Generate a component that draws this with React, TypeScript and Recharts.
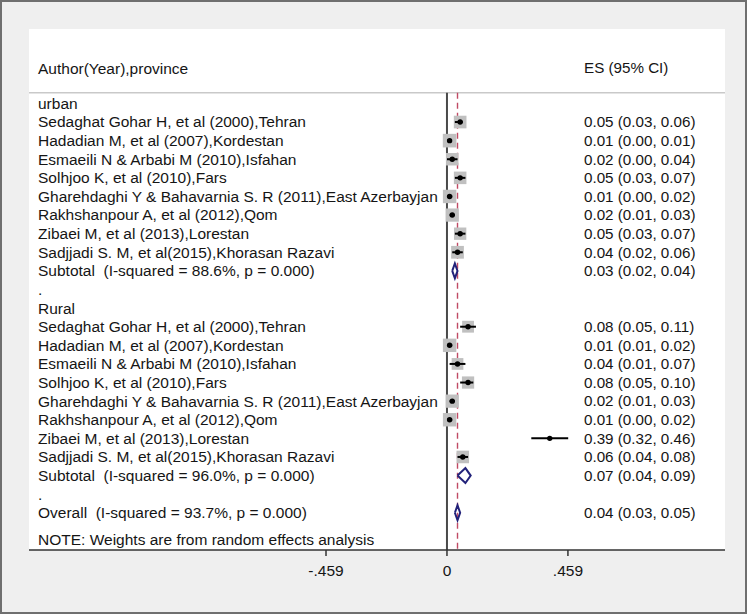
import React from "react";
import {
  ScatterChart,
  Scatter,
  XAxis,
  YAxis,
  ErrorBar,
  ReferenceLine,
  CartesianGrid,
} from "recharts";

const FONT = '"Liberation Sans", Arial, Helvetica, sans-serif';

const headerLeft = "Author(Year),province";
const headerRight = "ES (95% CI)";
const noteText = "NOTE: Weights are from random effects analysis";

const groups = ["urban", "Rural"];

const studies = [
  "Sedaghat Gohar H, et al (2000),Tehran",
  "Hadadian M, et al (2007),Kordestan",
  "Esmaeili N & Arbabi M (2010),Isfahan",
  "Solhjoo K, et al (2010),Fars",
  "Gharehdaghi Y & Bahavarnia S. R (2011),East Azerbayjan",
  "Rakhshanpour A, et al (2012),Qom",
  "Zibaei M, et al (2013),Lorestan",
  "Sadjjadi S. M, et al(2015),Khorasan Razavi",
];

const urbanEs = [0.05, 0.01, 0.02, 0.05, 0.01, 0.02, 0.05, 0.04];
const urbanLo = [0.03, 0.0, 0.0, 0.03, 0.0, 0.01, 0.03, 0.02];
const urbanHi = [0.06, 0.01, 0.04, 0.07, 0.02, 0.03, 0.07, 0.06];
const urbanWeight = [6.4, 7.4, 6.2, 6.3, 7.2, 7.0, 6.1, 6.5];

const ruralEs = [0.08, 0.01, 0.04, 0.08, 0.02, 0.01, 0.39, 0.06];
const ruralLo = [0.05, 0.01, 0.01, 0.05, 0.01, 0.0, 0.32, 0.04];
const ruralHi = [0.11, 0.02, 0.07, 0.1, 0.03, 0.02, 0.46, 0.08];
const ruralWeight = [5.6, 7.2, 5.5, 6.0, 7.0, 7.2, 0.2, 6.3];

const subtotalLabels = [
  "Subtotal  (I-squared = 88.6%, p = 0.000)",
  "Subtotal  (I-squared = 96.0%, p = 0.000)",
];
const subtotalEs = [0.03, 0.07];
const subtotalLo = [0.02, 0.04];
const subtotalHi = [0.04, 0.09];

const overallLabel = "Overall  (I-squared = 93.7%, p = 0.000)";
const overallEs = 0.04;
const overallLo = 0.03;
const overallHi = 0.05;

const xTicks = [-0.459, 0, 0.459];

const fmt = (es: number, lo: number, hi: number) =>
  `${es.toFixed(2)} (${lo.toFixed(2)}, ${hi.toFixed(2)})`;

// row index = position of the line in the table
const HEADER_ROW = -1.9;
const RULE_ROW = -0.57;
const NOTE_ROW = 23.45;
const DIAMOND_H = 0.4;

type TextRow = { y: number; left: string; right?: string };
const textRows: TextRow[] = [{ y: HEADER_ROW, left: headerLeft, right: headerRight }];
const points: { x: number; y: number; err: number[]; w: number }[] = [];
const diamonds: { x: number; y: number }[][] = [];

const diamondOf = (es: number, lo: number, hi: number, y: number) => [
  { x: lo, y },
  { x: es, y: y - DIAMOND_H },
  { x: hi, y },
  { x: es, y: y + DIAMOND_H },
  { x: lo, y },
];

const groupData = [
  { es: urbanEs, lo: urbanLo, hi: urbanHi, w: urbanWeight },
  { es: ruralEs, lo: ruralLo, hi: ruralHi, w: ruralWeight },
];

let row = 0;
groups.forEach((g, gi) => {
  const d = groupData[gi];
  textRows.push({ y: row++, left: g });
  studies.forEach((s, si) => {
    const y = row++;
    const es = d.es[si];
    const lo = d.lo[si];
    const hi = d.hi[si];
    textRows.push({ y, left: s, right: fmt(es, lo, hi) });
    points.push({ x: es, y, err: [es - lo, hi - es], w: d.w[si] });
  });
  const y = row++;
  textRows.push({
    y,
    left: subtotalLabels[gi],
    right: fmt(subtotalEs[gi], subtotalLo[gi], subtotalHi[gi]),
  });
  diamonds.push(diamondOf(subtotalEs[gi], subtotalLo[gi], subtotalHi[gi], y));
  textRows.push({ y: row++, left: "." });
});
const overallRow = row;
textRows.push({ y: overallRow, left: overallLabel, right: fmt(overallEs, overallLo, overallHi) });
diamonds.push(diamondOf(overallEs, overallLo, overallHi, overallRow));
textRows.push({ y: NOTE_ROW, left: noteText });

const ES_COL_X = 584;
const FS = 15.5;
const MARGIN = { top: 29, right: 22, bottom: 24, left: 28 };

const RowTick = (props: any) => {
  const { y, payload } = props;
  const r = textRows.find((t) => Math.abs(t.y - payload.value) < 1e-6);
  if (!r) return null;
  return (
    <g>
      <text
        x={38}
        y={y}
        dy="0.35em"
        fill="#151515"
        fontSize={FS}
        fontFamily={FONT}
        style={{ whiteSpace: "pre" }}
      >
        {r.left}
      </text>
      {r.right && (
        <text x={ES_COL_X} y={y} dy="0.35em" fill="#151515" fontSize={15.2} fontFamily={FONT}>
          {r.right}
        </text>
      )}
    </g>
  );
};

const WeightBox = (props: any) => {
  const { cx, cy, payload } = props;
  const s = Math.sqrt(payload.w) * 5;
  return <rect x={cx - s / 2} y={cy - s / 2} width={s} height={s} fill="#c0c0c0" />;
};

const Dot = (props: any) => <circle cx={props.cx} cy={props.cy} r={2.7} fill="#000" />;

const Nothing = () => <g />;

const tickFmt = (v: number) =>
  v === 0 ? "0" : (v < 0 ? "-" : "") + Math.abs(v).toFixed(3).replace(/^0/, "");

// both layers keep the same axes (same space, same scales); only the top one draws them
const axes = (draw: boolean) => [
  <XAxis
    key="x"
    type="number"
    dataKey="x"
    domain={[-1.586, 1.055]}
    allowDataOverflow
    ticks={xTicks}
    tickFormatter={tickFmt}
    height={40}
    tickSize={6}
    tickMargin={9}
    axisLine={draw ? { stroke: "#333", strokeWidth: 1.5 } : false}
    tickLine={draw ? { stroke: "#333", strokeWidth: 1.5 } : false}
    tick={draw ? { fill: "#151515", fontSize: FS, fontFamily: FONT } : false}
  />,
  <YAxis
    key="y"
    type="number"
    dataKey="y"
    domain={[-4, 24]}
    reversed
    allowDataOverflow
    ticks={textRows.map((t) => t.y)}
    interval={0}
    width={1}
    tickSize={0}
    tickMargin={0}
    axisLine={false}
    tickLine={false}
    tick={draw ? <RowTick /> : false}
  />,
];

export default function App() {
  const layer: React.CSSProperties = { position: "absolute", left: 0, top: 0 };
  return (
    <div
      style={{
        position: "absolute",
        left: 0,
        top: 0,
        width: 747,
        height: 614,
        background: "#efefef",
        boxShadow: "inset 0 0 0 2px #6f6f6f",
      }}
    >
      <div style={layer}>
        <ScatterChart width={747} height={614} margin={MARGIN}>
          <CartesianGrid horizontal={false} vertical={false} fill="#ffffff" />
          {axes(false)}
          <ReferenceLine y={RULE_ROW} stroke="#c9c9c9" strokeWidth={1.5} />
          <ReferenceLine
            segment={[
              { x: 0, y: RULE_ROW },
              { x: 0, y: 24 },
            ]}
            stroke="#4a4a4a"
            strokeWidth={2}
          />
          <ReferenceLine
            segment={[
              { x: overallEs, y: RULE_ROW },
              { x: overallEs, y: 24 },
            ]}
            stroke="#c04a64"
            strokeWidth={1.4}
            strokeDasharray="6 4"
          />
          <Scatter data={points} shape={<WeightBox />} isAnimationActive={false} />
        </ScatterChart>
      </div>
      <div style={layer}>
        <ScatterChart width={747} height={614} margin={MARGIN}>
          {axes(true)}
          <Scatter data={points} shape={<Dot />} isAnimationActive={false}>
            <ErrorBar dataKey="err" direction="x" width={0} stroke="#000" strokeWidth={2} />
          </Scatter>
          {diamonds.map((d, i) => (
            <Scatter
              key={i}
              data={d}
              line={{ stroke: "#22227a", strokeWidth: 2 }}
              lineType="joint"
              shape={<Nothing />}
              isAnimationActive={false}
            />
          ))}
        </ScatterChart>
      </div>
    </div>
  );
}
